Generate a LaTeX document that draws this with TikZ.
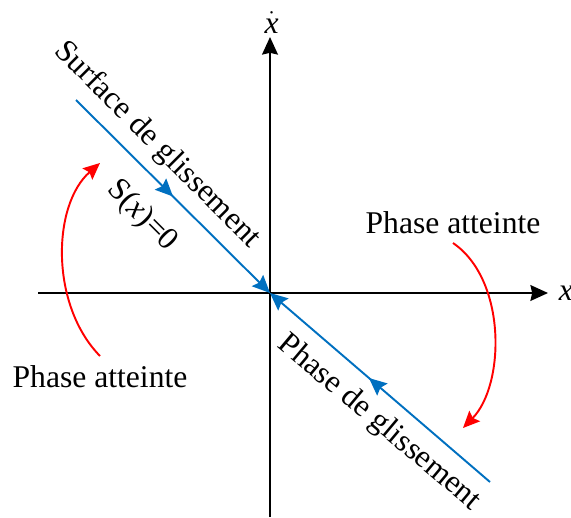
\documentclass[tikz,border=0pt]{standalone}
\usepackage{fontspec}
\setmainfont{Liberation Serif}
\usetikzlibrary{arrows.meta,positioning,decorations.markings}
\definecolor{slideblue}{RGB}{0,112,192}

\begin{document}
\begin{tikzpicture}[
    x=0.02cm, y=-0.02cm,
    every node/.style={font=\fontsize{18}{20}\selectfont, inner sep=2pt},
    axis/.style={draw, line width=1.1pt, -{Stealth[length=10pt,width=9pt,inset=1pt]}},
    slide/.style={draw=slideblue, line width=1.1pt, -{Stealth[length=10pt,width=9pt,inset=1.5pt]},
        postaction={decorate},
        decoration={markings, mark=at position #1 with {\arrow{Stealth[length=10pt,width=9pt,inset=1.5pt]}}}},
    reach/.style={draw=red, line width=1.1pt, -{Stealth[length=9.5pt,width=8.5pt,inset=1.5pt]}}
]
\useasboundingbox (0,0) rectangle (571,517);

% Axes
\coordinate (o) at (270,293);
\coordinate (xL) at (38,293);
\coordinate (xR) at (548,293);
\coordinate (yB) at (270,517);
\coordinate (yT) at (270,37);
\path [axis] (xL) -- (xR);
\path [axis] (yB) -- (yT);
\node[right=4pt of xR] (lblx) {\textit{x}};
\node[above=0pt of yT, xshift=1pt] (lbldx) {$\dot{\textit{x}}$};

% Sliding surface
\coordinate (sA) at (76,100);
\coordinate (sB) at (490,482);
\path [slide=0.5] (sA) -- (o);
\path [slide=0.55] (sB) -- (o);

\node[rotate=-45] (lblSurface) at (157,145) {Surface de glissement};
\node[rotate=-45] (lblSx) at (142,216) {S(\textit{x})=0};
\node[rotate=-40] (lblPhaseG) at (379,423) {Phase de glissement};

% Reaching phases
\node (lblAtteinteR) at (453,223) {Phase atteinte};
\node (lblAtteinteL) at (100,377) {Phase atteinte};
\coordinate (rEnd) at (463,428);
\coordinate (lEnd) at (100,163);
\path [reach] (lblAtteinteR.south) ++(0,5) .. controls (507,280) and (505,385) .. (rEnd);
\path [reach] (lblAtteinteL.north) ++(0,-6) .. controls (50,305) and (52,205) .. (lEnd);

\end{tikzpicture}
\end{document}
